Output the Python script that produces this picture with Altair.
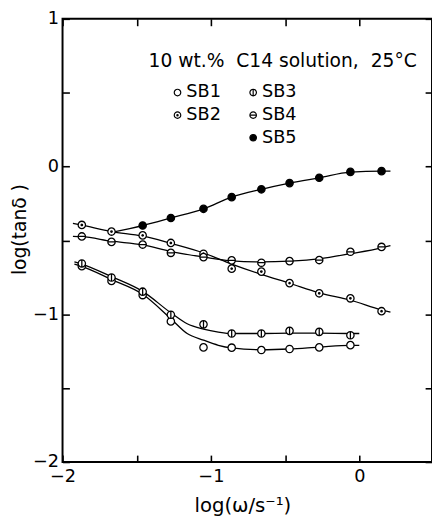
import altair as alt
import pandas as pd

series_all = ["SB1", "SB2", "SB3", "SB4", "SB5"]

x_sb1 = [-1.87, -1.67, -1.46, -1.27, -1.05, -0.86, -0.66, -0.47, -0.27, -0.06]
y_sb1 = [-0.674, -0.774, -0.870, -1.048, -1.224, -1.226, -1.242, -1.235, -1.224, -1.209]

x_sb3 = [-1.87, -1.67, -1.46, -1.27, -1.05, -0.86, -0.66, -0.47, -0.27, -0.06]
y_sb3 = [-0.656, -0.751, -0.847, -1.003, -1.068, -1.130, -1.130, -1.112, -1.119, -1.142]

x_sb2 = [-1.87, -1.67, -1.46, -1.27, -1.05, -0.86, -0.66, -0.47, -0.27, -0.06, 0.15]
y_sb2 = [-0.395, -0.440, -0.466, -0.517, -0.590, -0.691, -0.711, -0.789, -0.858, -0.892, -0.979]

x_sb4 = [-1.87, -1.67, -1.46, -1.27, -1.05, -0.86, -0.66, -0.47, -0.27, -0.06, 0.15]
y_sb4 = [-0.473, -0.510, -0.528, -0.584, -0.613, -0.635, -0.651, -0.640, -0.633, -0.577, -0.544]

x_sb5 = [-1.46, -1.27, -1.05, -0.86, -0.66, -0.47, -0.27, -0.06, 0.15]
y_sb5 = [-0.399, -0.348, -0.286, -0.207, -0.154, -0.112, -0.076, -0.036, -0.031]

# fitted curves
cx_sb1 = [-1.92, -1.87, -1.67, -1.46, -1.27, -1.16, -1.05, -0.95, -0.86, -0.66, -0.47, -0.27, -0.06, 0.0]
cy_sb1 = [-0.66, -0.675, -0.765, -0.865, -1.03, -1.13, -1.175, -1.21, -1.228, -1.24, -1.235, -1.222, -1.21, -1.21]
cx_sb3 = [-1.92, -1.87, -1.67, -1.46, -1.27, -1.16, -1.05, -0.95, -0.86, -0.66, -0.47, -0.27, -0.06, 0.0]
cy_sb3 = [-0.645, -0.66, -0.745, -0.845, -0.99, -1.064, -1.10, -1.12, -1.13, -1.13, -1.128, -1.128, -1.13, -1.13]
cx_sb2 = [-1.93, -1.87, -1.67, -1.46, -1.27, -1.05, -0.86, -0.66, -0.47, -0.27, -0.06, 0.15, 0.21]
cy_sb2 = [-0.385, -0.397, -0.44, -0.47, -0.52, -0.585, -0.66, -0.73, -0.79, -0.855, -0.905, -0.97, -0.985]
cx_sb4 = [-1.93, -1.87, -1.67, -1.46, -1.27, -1.05, -0.86, -0.66, -0.47, -0.27, -0.06, 0.15, 0.21]
cy_sb4 = [-0.473, -0.475, -0.505, -0.53, -0.575, -0.612, -0.638, -0.645, -0.64, -0.625, -0.59, -0.55, -0.535]
cx_sb5 = [-1.67, -1.46, -1.27, -1.05, -0.86, -0.66, -0.47, -0.27, -0.06, 0.15, 0.21]
cy_sb5 = [-0.445, -0.399, -0.348, -0.286, -0.207, -0.154, -0.112, -0.076, -0.038, -0.031, -0.031]

x_ticks = [-2, -1.5, -1, -0.5, 0]
x_labels = [-2, -1, 0]
y_ticks = [-2, -1.5, -1, -0.5, 0, 0.5, 1]
y_labels = [-2, -1, 0, 1]

title_text = "10 wt.%\u00a0\u00a0C14 solution,\u00a0\u00a025°C"
x_title = "log(ω/s⁻¹)"
y_title = "log(tanδ )"

# ---- tables ----
def long(pairs):
    rows = []
    for name, xs, ys in pairs:
        for a, b in zip(xs, ys):
            rows.append({"series": name, "x": a, "y": b})
    return pd.DataFrame(rows)

curves = long([("SB1", cx_sb1, cy_sb1), ("SB2", cx_sb2, cy_sb2), ("SB3", cx_sb3, cy_sb3),
               ("SB4", cx_sb4, cy_sb4), ("SB5", cx_sb5, cy_sb5)])
pts_a = long([("SB1", x_sb1, y_sb1), ("SB2", x_sb2, y_sb2)])
pts_b = long([("SB3", x_sb3, y_sb3), ("SB4", x_sb4, y_sb4), ("SB5", x_sb5, y_sb5)])

FONT = "DejaVu Sans"
CIRC = "M1,0A1,1,0,1,1,-1,0A1,1,0,1,1,1,0Z"
DOT = "M0.2,0A0.2,0.2,0,1,1,-0.2,0A0.2,0.2,0,1,1,0.2,0Z"
shape_sb1 = CIRC
shape_sb2 = CIRC + DOT
shape_sb3 = CIRC + "M0,-1L0,1"
shape_sb4 = CIRC + "M-1,0L1,0"
shape_sb5 = CIRC

xscale = alt.Scale(domain=[-2, 0.49], nice=False, zero=False)
yscale = alt.Scale(domain=[-2, 1], nice=False, zero=False)

def tick_axis(orient, values):
    return alt.Axis(orient=orient, values=values, labels=False, domain=False, grid=False,
                    ticks=True, tickSize=7, tickWidth=1.6, tickColor="black",
                    offset=-7, title=None)

lines = alt.Chart(curves).mark_line(interpolate="monotone", color="black", strokeWidth=1.3).encode(
    x=alt.X("x:Q", scale=xscale, axis=alt.Axis(
        orient="bottom", values=x_labels, ticks=False, domain=False, grid=False, labelFlush=False,
        labelFont=FONT, labelFontSize=18, labelColor="black", labelPadding=6,
        title=x_title, titleFont=FONT, titleFontSize=20, titleFontWeight="normal", titleColor="black",
        titleX=183, titleY=50, titleAlign="center", titleBaseline="alphabetic")),
    y=alt.Y("y:Q", scale=yscale, axis=alt.Axis(
        orient="left", values=y_labels, ticks=False, domain=False, grid=False, labelFlush=False,
        labelFont=FONT, labelFontSize=18, labelColor="black", labelPadding=4,
        title=y_title, titleFont=FONT, titleFontSize=19, titleFontWeight="normal", titleColor="black",
        titleAngle=270, titleX=-38, titleY=214, titleAlign="center", titleBaseline="alphabetic")),
    detail="series:N",
)

leg_common = dict(orient="none", title=None, labelFont=FONT, labelFontSize=18, labelColor="black",
                  symbolSize=44, symbolStrokeWidth=1.2, symbolOpacity=1,
                  labelOffset=0, rowPadding=5, padding=0, direction="vertical")

dom_a = ["SB1", "SB2"]
dom_b = ["SB3", "SB4", "SB5"]

leg_a = alt.Legend(legendX=108, legendY=66, **leg_common)
points_a = alt.Chart(pts_a).mark_point(filled=False, strokeWidth=1.3, size=56, opacity=1).encode(
    x=alt.X("x:Q", scale=xscale, axis=tick_axis("bottom", x_ticks)),
    y=alt.Y("y:Q", scale=yscale, axis=tick_axis("left", y_ticks)),
    shape=alt.Shape("series:N", scale=alt.Scale(domain=dom_a, range=[shape_sb1, shape_sb2]), legend=leg_a),
    stroke=alt.Stroke("series:N", scale=alt.Scale(domain=dom_a, range=["black", "black"]), legend=leg_a),
    fill=alt.Fill("series:N", scale=alt.Scale(domain=dom_a, range=["white", "white"]), legend=leg_a),
)

leg_b = alt.Legend(legendX=185, legendY=66, **leg_common)
points_b = alt.Chart(pts_b).mark_point(filled=False, strokeWidth=1.3, size=56, opacity=1).encode(
    x=alt.X("x:Q", scale=xscale, axis=tick_axis("top", x_ticks)),
    y=alt.Y("y:Q", scale=yscale, axis=tick_axis("right", y_ticks)),
    shape=alt.Shape("series:N", scale=alt.Scale(domain=dom_b, range=[shape_sb3, shape_sb4, shape_sb5]),
                    legend=leg_b),
    stroke=alt.Stroke("series:N", scale=alt.Scale(domain=dom_b, range=["black", "black", "black"]),
                      legend=leg_b),
    fill=alt.Fill("series:N", scale=alt.Scale(domain=dom_b, range=["white", "white", "black"]), legend=leg_b),
)

chart = alt.layer(lines, points_a, points_b).resolve_axis(
    x="independent", y="independent"
).resolve_scale(
    shape="independent", fill="independent", stroke="independent"
).resolve_legend(
    shape="independent", fill="independent", stroke="independent"
).properties(
    width=376, height=451,
    padding={"left": 55.5, "top": 6.5, "right": 0, "bottom": 55.5},
    autosize=alt.AutoSizeParams(type="none"),
    title=alt.TitleParams(text=title_text, anchor="start", frame="group", orient="top", offset=0,
                          baseline="alphabetic", dx=87.5, dy=76.5, font=FONT, fontSize=19,
                          fontWeight="normal", color="black"),
).configure_view(stroke="black", strokeWidth=2)

chart.save("out.html", embed_options={"renderer": "svg", "actions": False})
